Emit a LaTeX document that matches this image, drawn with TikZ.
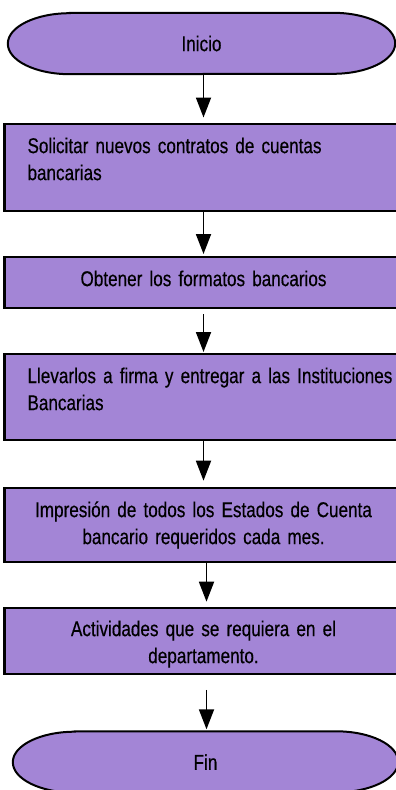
\documentclass[tikz,border=0pt]{standalone}
\usepackage{fontspec}
\setmainfont{Liberation Sans}[FakeStretch=0.8, FakeBold=0.4]
\usepackage{tikz}
\usetikzlibrary{positioning, calc, arrows.meta, backgrounds}
\definecolor{lila}{RGB}{163,133,214}
\newcommand{\letracaja}{\fontsize{21.4pt}{27pt}\selectfont\spaceskip 3.9pt plus 1pt minus 1pt\relax}

\tikzset{
  caja/.style={draw, line width=2.2pt, fill=lila, minimum width=398pt, text width=352pt,
    inner sep=2pt, anchor=north, text height=15.5pt},
  izq/.style={caja, align=left},
  centro/.style={caja, align=center},
  termtexto/.style={minimum width=#1, minimum height=61pt, inner sep=0pt},
  termino/.style={draw, line width=2pt, fill=lila},
  flecha/.style={-{Triangle[length=20pt, width=15pt]}, line width=1.8pt},
}

\begin{document}
\begin{tikzpicture}[x=1pt, y=1pt, font=\letracaja]
    \useasboundingbox (0,0) rectangle (396,-790);
    \node[termtexto=387pt] (inicio) at (201.5,-43.5) {Inicio};
    \node[izq, minimum height=87.5pt, text depth=44pt] (solicitar) at (203.5,-122.5) {Solicitar nuevos contratos de cuentas\\bancarias};
    \node[centro, minimum height=51pt, text depth=8.5pt] (obtener) at (203.5,-256) {Obtener los formatos bancarios};
    \node[izq, minimum height=85.5pt, text depth=43pt] (llevar) at (203.5,-353) {\mbox{Llevarlos a firma y entregar a las Instituciones}\\Bancarias};
    \node[centro, minimum height=74.3pt, text depth=31.2pt] (impresion) at (203.5,-486.7) {Impresión de todos los Estados de Cuenta\\bancario requeridos cada mes.};
    \node[centro, minimum height=66pt, text depth=24.9pt] (actividades) at (203.5,-606.7) {Actividades que se requiera en el\\departamento.};
    \node[termtexto=385pt] (fin) at (205.5,-762) {Fin};
    % terminales
    \begin{scope}[on background layer]
      \foreach \t in {inicio, fin} {
        \draw[termino] ($(\t.north west)+(62,0)$) -- ($(\t.north east)+(-62,0)$)
          arc[start angle=90, end angle=-90, x radius=62pt, y radius=30.5pt]
          -- ($(\t.south west)+(62,0)$)
          arc[start angle=270, end angle=90, x radius=62pt, y radius=30.5pt] -- cycle;
      }
    \end{scope}
    % flechas
    \draw[flecha, shorten >=5pt] (solicitar.north |- inicio.south) -- (solicitar.north);
    \draw[flecha, shorten >=2pt] (solicitar.south) -- (obtener.north);
    \draw[flecha, shorten <=5pt, shorten >=1pt] (obtener.south) -- (llevar.north);
    \draw[flecha, shorten >=6pt] (llevar.south) -- (impresion.north);
    \draw[flecha, shorten >=5pt] ([xshift=3pt]impresion.south) -- ([xshift=3pt]actividades.north);
    \draw[flecha, shorten <=15pt, shorten >=2pt] ([xshift=3pt]actividades.south) -- ([xshift=3pt]actividades.south |- fin.north);
\end{tikzpicture}
\end{document}
